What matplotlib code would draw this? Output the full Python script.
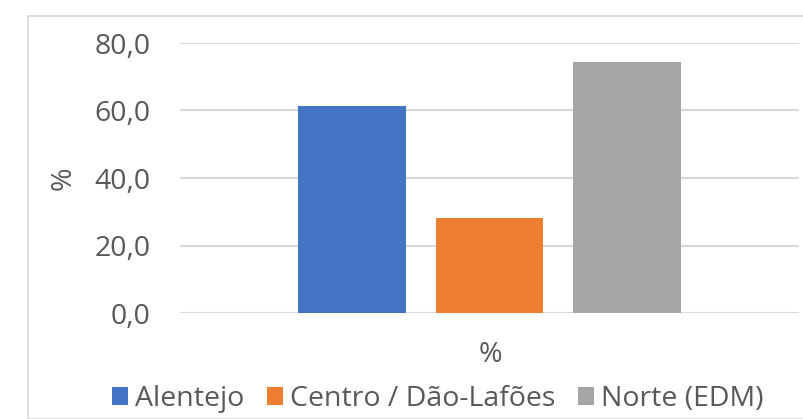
import matplotlib.pyplot as plt
from matplotlib.patches import Rectangle, Patch

# dados
regioes = ['Alentejo', 'Centro / Dão-Lafões', 'Norte (EDM)']
valores = [61.3, 28.2, 74.4]
cores = ['#4472C4', '#ED7D31', '#A5A5A5']
yticks = [0, 20, 40, 60, 80]
ytick_labels = ['0,0', '20,0', '40,0', '60,0', '80,0']

plt.rcParams['font.family'] = ['Open Sans', 'DejaVu Sans']
cinza_txt = '#595959'
fs = 20.5

fig = plt.figure(figsize=(8.04, 4.19), dpi=100)
W, H = 804, 419

# moldura do gráfico
fig.patches.append(Rectangle((28 / W, 0), 1, 1 - 16 / H, transform=fig.transFigure,
                             fill=False, edgecolor='#D9D9D9', linewidth=1.2))

ax = fig.add_axes([180 / W, (H - 313) / H, (799 - 180) / W, (313 - 43) / H])
pos = range(len(regioes))
ax.bar(pos, valores, width=0.785, color=cores, zorder=2)
ax.set_xlim(-1.25, 3.25)
ax.set_ylim(0, 80)
ax.set_yticks(yticks)
ax.set_yticklabels(ytick_labels)
ax.yaxis.grid(True, color='#D9D9D9', linewidth=1.5, zorder=0)
ax.set_axisbelow(True)
for s in ax.spines.values():
    s.set_visible(False)
ax.tick_params(axis='y', length=0, pad=21, labelsize=fs, labelcolor=cinza_txt)
ax.set_xticks([])

fig.text(64 / W, 1 - 178 / H, '%', ha='center', va='center', rotation=90,
         fontsize=fs, color=cinza_txt)
fig.text(490 / W, 1 - 355 / H, '%', ha='center', va='center', fontsize=fs, color=cinza_txt)

handles = [Patch(facecolor=c) for c in cores]
fig.legend(handles, regioes, loc='center', bbox_to_anchor=(438 / W, 1 - 399 / H), ncol=3,
           frameon=False, fontsize=fs, labelcolor=cinza_txt, handlelength=0.55,
           handleheight=0.55, handletextpad=0.25, columnspacing=0.8,
           borderpad=0, borderaxespad=0)

fig.savefig('out.png', dpi=100)
